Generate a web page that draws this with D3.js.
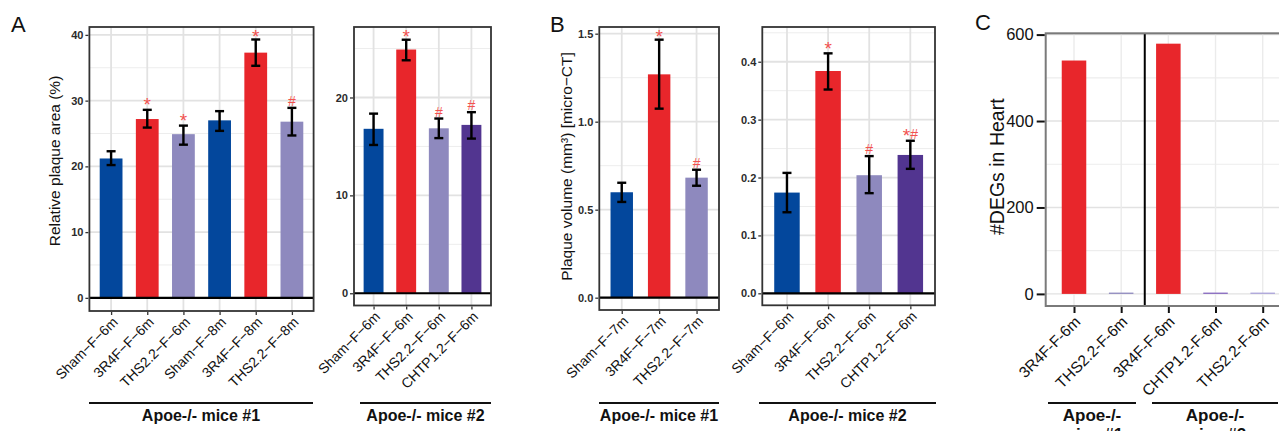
<!DOCTYPE html>
<html>
<head>
<meta charset="utf-8">
<script src="https://cdn.jsdelivr.net/npm/d3@7"></script>
<style>
  body { margin: 0; background: #fff; }
  svg { display: block; font-family: "Liberation Sans", Arial, sans-serif; }
</style>
</head>
<body>
<div id="chart"></div>
<script>
// ---- data ----
// A: relative plaque area (%), mean with error bar ends
const catsA1 = ["Sham−F−6m", "3R4F−F−6m", "THS2.2−F−6m", "Sham−F−8m", "3R4F−F−8m", "THS2.2−F−8m"];
const grpA1 = ["Sham", "3R4F", "THS", "Sham", "3R4F", "THS"];
const meanA1 = [21.2, 27.2, 24.9, 27.0, 37.3, 26.8];
const loA1 = [20.2, 25.9, 23.3, 25.4, 35.3, 24.7];
const hiA1 = [22.3, 28.6, 26.2, 28.4, 39.3, 28.9];
const sigA1 = ["", "*", "*", "", "*", "#"];

const catsA2 = ["Sham−F−6m", "3R4F−F−6m", "THS2.2−F−6m", "CHTP1.2−F−6m"];
const grpA2 = ["Sham", "3R4F", "THS", "CHTP"];
const meanA2 = [16.8, 24.9, 16.85, 17.2];
const loA2 = [15.15, 23.8, 15.85, 15.8];
const hiA2 = [18.35, 25.9, 17.85, 18.5];
const sigA2 = ["", "*", "#", "#"];

// B: plaque volume (mm3), micro-CT
const catsB1 = ["Sham−F−7m", "3R4F−F−7m", "THS2.2−F−7m"];
const grpB1 = ["Sham", "3R4F", "THS"];
const meanB1 = [0.599, 1.269, 0.682];
const loB1 = [0.544, 1.074, 0.636];
const hiB1 = [0.653, 1.466, 0.727];
const sigB1 = ["", "*", "#"];

const catsB2 = ["Sham−F−6m", "3R4F−F−6m", "THS2.2−F−6m", "CHTP1.2−F−6m"];
const grpB2 = ["Sham", "3R4F", "THS", "CHTP"];
const meanB2 = [0.174, 0.384, 0.204, 0.239];
const loB2 = [0.140, 0.352, 0.173, 0.215];
const hiB2 = [0.208, 0.4145, 0.237, 0.2635];
const sigB2 = ["", "*", "#", "*#"];

// C: number of DEGs in heart
const catsC = ["3R4F-F-6m", "THS2.2-F-6m", "3R4F-F-6m", "CHTP1.2-F-6m", "THS2.2-F-6m"];
const grpC = ["3R4F", "THS", "3R4F", "CHTPc", "THSc"];
const degsC = [540, 3, 579, 3, 3];

const groupLabels = ["Apoe-/- mice #1", "Apoe-/- mice #2"];

const colors = {
    Sham: "#03479C",
    "3R4F": "#E8262B",
    THS: "#8E89BE",
    CHTP: "#523590",
    CHTPc: "#8466BE",
    THSc: "#ABA3DA"
};

const svg = d3.select("#chart")
    .append("svg")
    .attr("width", 1279)
    .attr("height", 431);

function drawPanel(p) {
    const n = p.cats.length;
    const x = d3.scalePoint().domain(d3.range(n)).range([p.x0, p.x1]).padding(0.6);
    const y = d3.scaleLinear().domain(p.yDomain).range([p.y1, p.y0]);
    const bw = x.step() * p.barFrac;
    const g = svg.append("g");

    // grid
    g.selectAll("line.minor").data(p.minor).join("line")
        .attr("x1", p.x0).attr("x2", p.x1)
        .attr("y1", d => y(d)).attr("y2", d => y(d))
        .attr("stroke", "#EDEDED").attr("stroke-width", p.big ? 1.2 : 1);
    g.selectAll("line.hmajor").data(p.ticks).join("line")
        .attr("x1", p.x0).attr("x2", p.x1)
        .attr("y1", d => y(d)).attr("y2", d => y(d))
        .attr("stroke", "#E2E2E2").attr("stroke-width", p.big ? 1.4 : 1.8);
    g.selectAll("line.vmajor").data(d3.range(n)).join("line")
        .attr("x1", d => x(d)).attr("x2", d => x(d))
        .attr("y1", p.y0).attr("y2", p.y1)
        .attr("stroke", p.big ? "#EBEBEB" : "#E2E2E2").attr("stroke-width", p.big ? 1.4 : 1.8);

    // bars
    g.selectAll("rect.bar").data(p.vals).join("rect")
        .attr("x", (d, i) => x(i) - bw / 2)
        .attr("width", bw)
        .attr("y", d => y(d))
        .attr("height", d => y(0) - y(d))
        .attr("fill", (d, i) => colors[p.grp[i]]);

    // error bars
    if (p.lo) {
        const eb = g.selectAll("g.err").data(p.vals).join("g")
            .attr("stroke", "#000").attr("stroke-width", 2.4);
        eb.append("line")
            .attr("x1", (d, i) => x(i)).attr("x2", (d, i) => x(i))
            .attr("y1", (d, i) => y(p.lo[i])).attr("y2", (d, i) => y(p.hi[i]));
        eb.append("line")
            .attr("x1", (d, i) => x(i) - 4.5).attr("x2", (d, i) => x(i) + 4.5)
            .attr("y1", (d, i) => y(p.lo[i])).attr("y2", (d, i) => y(p.lo[i]));
        eb.append("line")
            .attr("x1", (d, i) => x(i) - 4.5).attr("x2", (d, i) => x(i) + 4.5)
            .attr("y1", (d, i) => y(p.hi[i])).attr("y2", (d, i) => y(p.hi[i]));

        // significance marks: star drawn larger so it matches the hash height
        const sg = g.selectAll("text.sig").data(p.sig).join("text")
            .attr("x", (d, i) => x(i))
            .attr("y", (d, i) => Math.max(y(p.hi[i]) - 2, p.y0 + 12))
            .attr("text-anchor", "middle")
            .attr("fill", "#F2524F");
        sg.each(function (d) {
            const t = d3.select(this);
            d.split("").forEach(ch => {
                t.append("tspan")
                    .style("font-size", ch === "*" ? "19px" : "14px")
                    .attr("dy", ch === "*" ? 3.5 : (d.length > 1 ? -3.5 : 0))
                    .text(ch);
            });
        });
    }

    // zero line
    if (p.zeroLine) {
        g.append("line")
            .attr("x1", p.x0).attr("x2", p.x1)
            .attr("y1", y(0)).attr("y2", y(0))
            .attr("stroke", "#000").attr("stroke-width", 2.2);
    }

    // divider in C
    if (p.divider) {
        const xd = (x(p.divider - 1) + x(p.divider)) / 2;
        g.append("line")
            .attr("x1", xd).attr("x2", xd)
            .attr("y1", p.y0).attr("y2", p.y1)
            .attr("stroke", "#000").attr("stroke-width", 2);
    }

    // border
    g.append("rect")
        .attr("x", p.x0).attr("y", p.y0)
        .attr("width", p.x1 - p.x0).attr("height", p.y1 - p.y0)
        .attr("fill", "none")
        .attr("stroke", p.big ? "#7A7A7A" : "#333")
        .attr("stroke-width", p.big ? 2 : 1.8);

    // y axis
    const ya = g.append("g")
        .attr("transform", `translate(${p.x0 - 1},0)`)
        .call(d3.axisLeft(y).tickValues(p.ticks).tickFormat(p.fmt)
            .tickSize(p.big ? 8 : 3).tickPadding(p.big ? 3 : 2));
    ya.select(".domain").remove();
    ya.selectAll("line").attr("stroke", p.big ? "#111" : "#333").attr("stroke-width", p.big ? 2 : 1.3);
    ya.selectAll("text")
        .style("font-size", p.big ? "16.5px" : "11px")
        .style("font-weight", p.big ? "normal" : "bold")
        .attr("fill", p.big ? "#111" : "#2b2b2b");

    // x axis
    const xa = g.append("g")
        .attr("transform", `translate(0,${p.y1 + 1})`)
        .call(d3.axisBottom(x).tickFormat(i => p.cats[i])
            .tickSize(p.big ? 6 : 3));
    xa.select(".domain").remove();
    xa.selectAll("line").attr("stroke", p.big ? "#111" : "#333").attr("stroke-width", p.big ? 2 : 1.3);
    xa.selectAll("text")
        .attr("x", 0).attr("y", 0).attr("dy", "0.71em")
        .attr("text-anchor", "end")
        .attr("transform", p.big ? "translate(-1,8) rotate(-45)" : "translate(0,4) rotate(-45)")
        .style("font-size", p.big ? "15.5px" : "14px")
        .attr("fill", "#111");

    // y title
    svg.append("text")
        .attr("transform", `translate(${p.titleX},${p.titleY}) rotate(-90)`)
        .attr("text-anchor", "middle")
        .style("font-size", p.big ? "19.5px" : "15.5px")
        .attr("fill", "#111")
        .text(p.title);

    // group labels
    p.groups.forEach(gr => {
        svg.append("line")
            .attr("x1", gr.span[0]).attr("x2", gr.span[1])
            .attr("y1", 403).attr("y2", 403)
            .attr("stroke", "#111").attr("stroke-width", 2);
        const t = svg.append("text")
            .attr("x", (gr.span[0] + gr.span[1]) / 2)
            .attr("y", 421)
            .attr("text-anchor", "middle")
            .style("font-size", p.big ? "17px" : "16px")
            .style("font-weight", "bold")
            .attr("fill", "#111");
        if (p.big) {
            const parts = gr.label.split(" ");
            t.append("tspan").attr("x", (gr.span[0] + gr.span[1]) / 2).text(parts[0]);
            t.append("tspan").attr("x", (gr.span[0] + gr.span[1]) / 2).attr("dy", 19).text(parts.slice(1).join(" "));
        } else {
            t.text(gr.label);
        }
    });
}

drawPanel({
    cats: catsA1, grp: grpA1, vals: meanA1, lo: loA1, hi: hiA1, sig: sigA1,
    x0: 89.4, x1: 313.6, y0: 27, y1: 311, yDomain: [-2, 41.2],
    ticks: [0, 10, 20, 30, 40], minor: [5, 15, 25, 35], fmt: d3.format("d"),
    barFrac: 0.63, zeroLine: true,
    title: "Relative plaque area (%)", titleX: 60, titleY: 161,
    groups: [{ label: groupLabels[0], span: [89, 313] }]
});

drawPanel({
    cats: catsA2, grp: grpA2, vals: meanA2, lo: loA2, hi: hiA2, sig: sigA2,
    x0: 354, x1: 491, y0: 27, y1: 305.5, yDomain: [-1.25, 27.2],
    ticks: [0, 10, 20], minor: [5, 15, 25], fmt: d3.format("d"),
    barFrac: 0.61, zeroLine: true,
    title: "", titleX: 0, titleY: 0,
    groups: [{ label: groupLabels[1], span: [360, 491] }]
});

drawPanel({
    cats: catsB1, grp: grpB1, vals: meanB1, lo: loB1, hi: hiB1, sig: sigB1,
    x0: 599.3, x1: 719, y0: 27, y1: 310, yDomain: [-0.07, 1.538],
    ticks: [0, 0.5, 1, 1.5], minor: [0.25, 0.75, 1.25], fmt: d3.format(".1f"),
    barFrac: 0.6, zeroLine: true,
    title: "Plaque volume (mm³) [micro−CT]", titleX: 572, titleY: 166.5,
    groups: [{ label: groupLabels[0], span: [599, 719] }]
});

drawPanel({
    cats: catsB2, grp: grpB2, vals: meanB2, lo: loB2, hi: hiB2, sig: sigB2,
    x0: 762.3, x1: 935, y0: 27, y1: 305.3, yDomain: [-0.0207, 0.46],
    ticks: [0, 0.1, 0.2, 0.3, 0.4], minor: [0.05, 0.15, 0.25, 0.35, 0.45], fmt: d3.format(".1f"),
    barFrac: 0.62, zeroLine: true,
    title: "", titleX: 0, titleY: 0,
    groups: [{ label: groupLabels[1], span: [759, 936] }]
});

drawPanel({
    cats: catsC, grp: grpC, vals: degsC,
    x0: 1045.7, x1: 1291, y0: 33.3, y1: 306, yDomain: [-28, 603],
    ticks: [0, 200, 400, 600], minor: [100, 300, 500], fmt: d3.format("d"),
    barFrac: 0.52, zeroLine: false, divider: 2, big: true,
    title: "#DEGs in Heart", titleX: 1003.5, titleY: 166.7,
    groups: [{ label: groupLabels[0], span: [1048, 1136] }, { label: groupLabels[1], span: [1152, 1278] }]
});

// panel letters
[["A", 11, 31.5], ["B", 550, 31.5], ["C", 975, 30]].forEach(d => {
    svg.append("text")
        .attr("x", d[1]).attr("y", d[2])
        .style("font-size", "22px")
        .attr("fill", "#111")
        .text(d[0]);
});
</script>
</body>
</html>
